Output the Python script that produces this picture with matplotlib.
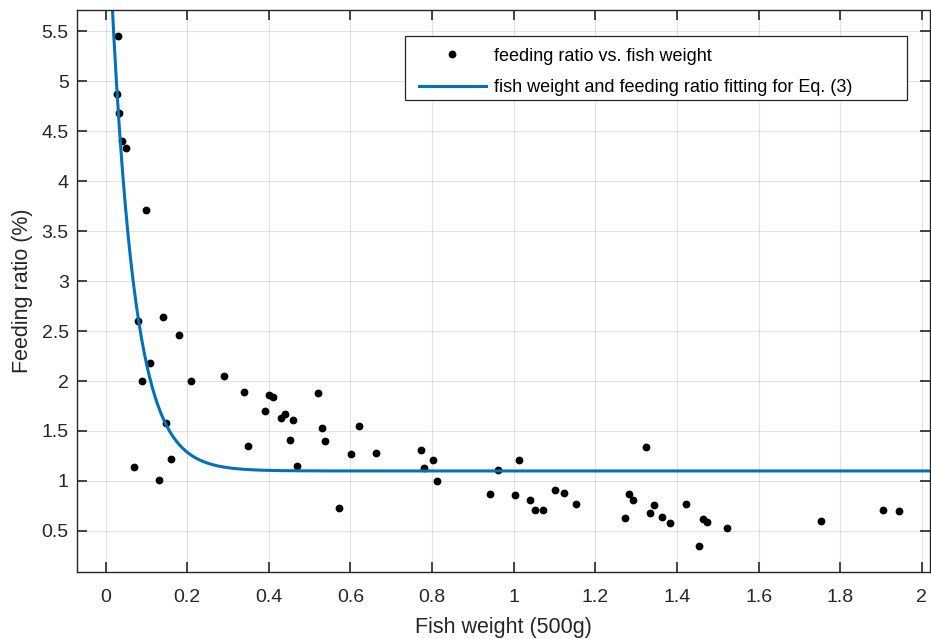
import numpy as np
import matplotlib
matplotlib.use("Agg")
import matplotlib.pyplot as plt
from matplotlib.patches import Rectangle

plt.rcParams['font.family'] = ['Liberation Sans', 'DejaVu Sans']

# measured points: fish weight (500g) and feeding ratio (%)
weight = [0.030, 0.027, 0.034, 0.040, 0.050, 0.099, 0.079, 0.140, 0.180, 0.110,
          0.090, 0.210, 0.290, 0.340, 0.400, 0.411, 0.391, 0.430, 0.440, 0.460,
          0.149, 0.521, 0.531, 0.538, 0.451, 0.350, 0.470, 0.160, 0.069, 0.130,
          0.571, 0.601, 0.621, 0.662, 0.772, 0.781, 0.802, 0.811, 0.941, 0.962,
          1.002, 1.012, 1.041, 1.052, 1.072, 1.102, 1.122, 1.152, 1.273, 1.282,
          1.293, 1.323, 1.333, 1.343, 1.363, 1.383, 1.423, 1.453, 1.463, 1.473,
          1.523, 1.754, 1.905, 1.944]
ratio = [5.45, 4.87, 4.68, 4.40, 4.33, 3.71, 2.60, 2.64, 2.46, 2.18,
         2.00, 2.00, 2.05, 1.89, 1.86, 1.84, 1.70, 1.63, 1.67, 1.61,
         1.58, 1.88, 1.53, 1.40, 1.41, 1.35, 1.15, 1.22, 1.14, 1.01,
         0.73, 1.27, 1.55, 1.28, 1.31, 1.13, 1.21, 1.00, 0.87, 1.11,
         0.86, 1.21, 0.81, 0.71, 0.71, 0.91, 0.88, 0.77, 0.63, 0.87,
         0.81, 1.34, 0.68, 0.76, 0.64, 0.58, 0.77, 0.35, 0.62, 0.59,
         0.53, 0.60, 0.71, 0.70]

# fitted curve parameters (Eq. 3): y = a*exp(-b*x) + c
a, b, c = 6.2, 17.5, 1.1
xfit = np.linspace(0.0, 2.02, 600)
yfit = a * np.exp(-b * xfit) + c

fig = plt.figure(figsize=(9.31, 6.39), dpi=100)
ax = fig.add_axes([0.0827, 0.105, 0.9163, 0.879])

ax.plot(weight, ratio, 'ko', markersize=4.6, linestyle='none',
        label='feeding ratio vs. fish weight')
ax.plot(xfit, yfit, color='#0072BD', linewidth=2.2,
        label='fish weight and feeding ratio fitting for Eq. (3)')

ax.set_xlim(-0.07, 2.02)
ax.set_ylim(0.09, 5.71)
ax.set_xticks(np.arange(0, 2.01, 0.2))
ax.set_xticklabels(['0', '0.2', '0.4', '0.6', '0.8', '1', '1.2', '1.4', '1.6', '1.8', '2'])
ax.set_yticks(np.arange(0.5, 5.51, 0.5))
ax.set_yticklabels(['0.5', '1', '1.5', '2', '2.5', '3', '3.5', '4', '4.5', '5', '5.5'])

ax.grid(True, color='#262626', alpha=0.13, linewidth=0.8)
ax.set_axisbelow(True)
ax.tick_params(direction='in', top=True, right=True, length=7, width=1.2,
               color='#262626', labelsize=14, labelcolor='#262626')
ax.tick_params(axis='x', pad=12)
ax.tick_params(axis='y', pad=6)
for s in ax.spines.values():
    s.set_color('#262626')
    s.set_linewidth(1.0)

ax.set_xlabel('Fish weight (500g)', fontsize=15.5, color='#262626', labelpad=8)
ax.set_ylabel('Feeding ratio (%)', fontsize=15.5, color='#262626', labelpad=6)

# legend box (MATLAB style, wider than its text)
box = Rectangle((405 / 931, 1 - 100 / 639), 502 / 931, 64 / 639,
                transform=fig.transFigure, facecolor='white',
                edgecolor='#262626', linewidth=0.9, zorder=4)
ax.add_patch(box)
leg = ax.legend(loc='upper left', bbox_to_anchor=(407 / 931, 1 - 36 / 639),
                bbox_transform=fig.transFigure, fontsize=13, frameon=False,
                borderaxespad=0, borderpad=0.65, handlelength=3.7,
                handletextpad=0.45, labelspacing=0.8)
leg.set_zorder(5)

fig.savefig('out.png', dpi=100)
